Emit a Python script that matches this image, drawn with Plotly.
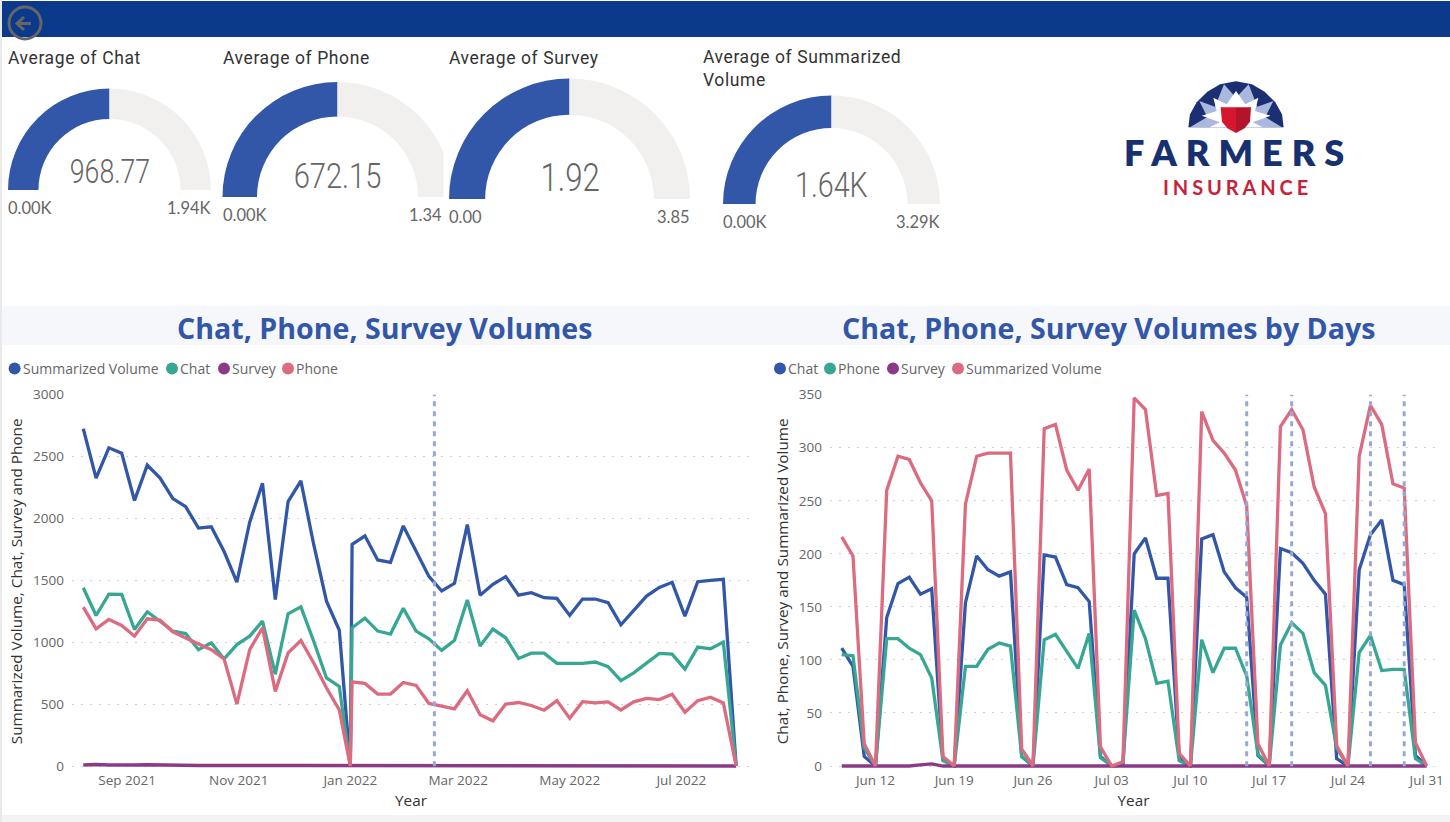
import plotly.graph_objects as go

W, H = 1450, 822

# ---------- data ----------
gauge_titles = ["Average of Chat", "Average of Phone", "Average of Survey", "Average of Summarized<br>Volume"]
gauge_values = [968.77, 672.15, 1.92, 1640]
gauge_maxima = [1937.54, 1344.30, 3.84, 3280]
gauge_value_labels = ["968.77", "672.15", "1.92", "1.64K"]
gauge_min_labels = ["0.00K", "0.00K", "0.00", "0.00K"]
gauge_max_labels = ["1.94K", "1.34", "3.85", "3.29K"]

year_dates = [
    "2021-08-08","2021-08-15","2021-08-22","2021-08-29","2021-09-05","2021-09-12","2021-09-19",
    "2021-09-26","2021-10-03","2021-10-10","2021-10-17","2021-10-24","2021-10-31","2021-11-07",
    "2021-11-14","2021-11-21","2021-11-28","2021-12-05","2021-12-12","2021-12-19","2021-12-26",
    "2022-01-01","2022-01-02","2022-01-09","2022-01-16","2022-01-23","2022-01-30","2022-02-06",
    "2022-02-13","2022-02-20","2022-02-27","2022-03-06","2022-03-13","2022-03-20","2022-03-27",
    "2022-04-03","2022-04-10","2022-04-17","2022-04-24","2022-05-01","2022-05-08","2022-05-15",
    "2022-05-22","2022-05-29","2022-06-05","2022-06-12","2022-06-19","2022-06-26","2022-07-03",
    "2022-07-10","2022-07-17","2022-07-24","2022-07-31",
]
year_summarized = [2725,2326,2571,2528,2145,2431,2326,2160,2095,1922,1933,1733,1485,1970,2285,1345,2137,2304,1790,1332,1097,
                   0,1790,1860,1665,1645,1940,1735,1532,1414,1476,1950,1379,1468,1530,1381,1400,1360,1354,1217,1349,1349,
                   1319,1141,1260,1373,1443,1484,1211,1489,1500,1508,0]
year_chat = [1440,1216,1389,1386,1103,1246,1170,1089,1070,940,995,865,981,1049,1170,743,1230,1286,1008,711,643,
             0,1117,1195,1090,1066,1274,1090,1028,934,1015,1341,969,1106,1036,869,912,912,829,829,829,840,
             802,689,753,831,910,904,783,961,947,1001,0]
year_survey = [8,12,8,6,8,10,7,5,4,4,4,5,4,5,7,5,4,4,4,3,3,
               0,3,3,3,3,4,5,4,3,3,3,3,3,4,5,4,3,3,4,3,2,
               2,2,2,3,3,2,2,2,2,2,0]
year_phone = [1284,1108,1184,1135,1049,1189,1178,1084,1035,989,940,865,500,940,1116,603,914,1014,832,630,454,
              0,680,667,581,581,675,651,505,484,462,608,414,365,500,513,489,451,528,385,520,510,
              518,453,518,547,537,580,434,528,556,510,0]
year_marker_dates = ["2022-02-16"]

day_dates = [
    "2022-06-09","2022-06-10","2022-06-11","2022-06-12","2022-06-13","2022-06-14","2022-06-15","2022-06-16",
    "2022-06-17","2022-06-18","2022-06-19","2022-06-20","2022-06-21","2022-06-22","2022-06-23","2022-06-24",
    "2022-06-25","2022-06-26","2022-06-27","2022-06-28","2022-06-29","2022-06-30","2022-07-01","2022-07-02",
    "2022-07-03","2022-07-04","2022-07-05","2022-07-06","2022-07-07","2022-07-08","2022-07-09","2022-07-10",
    "2022-07-11","2022-07-12","2022-07-13","2022-07-14","2022-07-15","2022-07-16","2022-07-17","2022-07-18",
    "2022-07-19","2022-07-20","2022-07-21","2022-07-22","2022-07-23","2022-07-24","2022-07-25","2022-07-26",
    "2022-07-27","2022-07-28","2022-07-29","2022-07-30","2022-07-31",
]
day_chat = [111,94,9,0,140,172,178,162,167,6,0,154,198,185,179,183,9,0,199,197,171,168,155,9,
            0,1,200,215,177,177,9,0,214,218,183,168,159,10,0,205,201,191,175,162,7,0,185,218,232,175,171,10,0]
day_phone = [105,104,17,0,120,120,111,105,83,5,0,94,94,110,116,113,9,0,119,124,108,92,125,8,
             0,3,147,120,78,80,5,0,119,88,111,111,85,11,0,114,135,125,88,76,17,0,107,123,90,91,91,7,0]
day_survey = [0,0,0,0,0,0,0,1,2,0,0,0,0,0,0,0,0,0,0,0,0,0,0,0,
              0,0,0,0,0,0,0,0,0,0,0,0,0,0,0,0,0,0,0,0,0,0,0,0,0,0,0,0,0]
day_summarized = [216,198,21,0,260,292,289,267,250,9,0,247,292,295,295,295,16,0,318,322,279,260,280,18,
                  0,4,347,336,255,257,12,0,334,307,295,279,245,21,0,320,336,317,263,238,19,0,292,340,322,266,262,22,0]
day_marker_dates = ["2022-07-15", "2022-07-19", "2022-07-26", "2022-07-29"]

left_series = ["Summarized Volume", "Chat", "Survey", "Phone"]
right_series = ["Chat", "Phone", "Survey", "Summarized Volume"]

BLUE, TEAL, PURPLE, PINK = "#3257A8", "#37A794", "#8B3A88", "#DC6B80"
GREY = "#F1F0EF"
TICK = "#666666"
UI = "Open Sans"
DIN = "Lato"


def px(x):
    return x / W


def py(y):
    return 1 - y / H


fig = go.Figure()
shapes = []
ann = []


def rect(x0, y0, x1, y1, color, layer="below"):
    shapes.append(dict(type="rect", xref="paper", yref="paper", x0=px(x0), x1=px(x1), y0=py(y0), y1=py(y1),
                       fillcolor=color, line_width=0, layer=layer))


def text(x, y, s, size, color, anchor="center", family=UI, weight=None):
    # annotations carry a 2px internal inset; compensate so x is the ink edge
    x = x - 2 if anchor == "left" else (x + 2 if anchor == "right" else x)
    ann.append(dict(xref="paper", yref="paper", x=px(x), y=py(y), text=s, showarrow=False, xanchor=anchor,
                    yanchor="middle", align="left", font=dict(size=size, color=color, family=family, weight=weight)))


# ---------- page furniture ----------
rect(0, 0, 2, 822, "#E9E9E9")
rect(2, 1, 1450, 37, "#0B3A8C")
rect(2, 306, 1450, 345, "#F6F7FB")
rect(2, 815, 1450, 822, "#F3F3F3")

# back button
shapes.append(dict(type="circle", xref="paper", yref="paper", x0=px(9), x1=px(41), y0=py(39), y1=py(7),
                   line=dict(color="#666666", width=3), fillcolor="rgba(0,0,0,0)"))
shapes.append(dict(type="path", xref="paper", yref="paper",
                   path=f"M {px(31)} {py(23.5)} L {px(17)} {py(23.5)} M {px(24)} {py(17)} L {px(17)} {py(23.5)} L {px(24)} {py(30)}",
                   line=dict(color="#666666", width=3)))


# ---------- logo ----------
def logo_pt(zx, zy):
    return px(1170 + zx / 3), py(75 + zy / 3)


def poly(points, color):
    d = []
    for i, (a, b) in enumerate(points):
        X, Y = logo_pt(a, b)
        d.append(("M" if i == 0 else "L") + f" {X} {Y}")
    shapes.append(dict(type="path", xref="paper", yref="paper", path=" ".join(d) + " Z", fillcolor=color, line_width=0))


poly([(55, 157), (60, 118), (80, 82), (112, 50), (150, 28), (198, 19), (246, 28), (284, 50), (316, 82), (336, 118), (341, 157)], "#1B2F72")
poly([(60, 157), (112, 126), (88, 78), (135, 95), (162, 28), (198, 68), (236, 28), (262, 95), (310, 78), (286, 126), (336, 157)], "#A9B8DC")
poly([(118, 157), (150, 142), (95, 122), (140, 108), (130, 68), (170, 88), (198, 48), (226, 88), (265, 68), (255, 108), (302, 122), (248, 142), (278, 157)], "#FFFFFF")
poly([(152, 97), (198, 97), (198, 174), (172, 160), (156, 140)], "#D7162F")
poly([(198, 97), (243, 97), (240, 140), (224, 160), (198, 174)], "#B3142C")
text(1124, 152, "FARMERS", 36, "#17306F", "left", DIN, 800)
text(1163, 187, "INSURANCE", 20, "#C6233B", "left", DIN, 700)

# ---------- gauges ----------
gauge_geom = [  # cx, baseline, radius
    (109.5, 190, 101.5), (337.5, 197, 115), (569.5, 199, 120.5), (831.5, 204, 108.5)]
gauge_title_xy = [(8, 58), (223, 58), (449, 58), (703, 69)]
gauge_min_x = [8, 223, 449, 723]
gauge_max_x = [211, 442, 690, 940]
gauge_tick_y = [208, 215, 217, 222]
gauge_val_y = [172, 176, 178, 185]
gauge_val_size = [32.5, 35.5, 38, 35]
for i, (v, m) in enumerate(zip(gauge_values, gauge_maxima)):
    cx, base, r = gauge_geom[i]
    fig.add_trace(go.Pie(values=[v, m - v, m], sort=False, direction="clockwise", rotation=270, hole=0.70,
                         marker=dict(colors=[BLUE, GREY, "rgba(0,0,0,0)"], line=dict(width=0)),
                         textinfo="none", hoverinfo="skip", showlegend=False,
                         domain=dict(x=[px(cx - r), px(cx + r)], y=[py(base + r), py(base - r)])))
    tx, ty = gauge_title_xy[i]
    text(tx, ty, gauge_titles[i], 17.5, "#333333", "left", "Roboto")
    text(cx, gauge_val_y[i], gauge_value_labels[i], gauge_val_size[i], "#666666", family="Roboto", weight=300)
    text(gauge_min_x[i], gauge_tick_y[i], gauge_min_labels[i], 16.5, TICK, "left", DIN)
    text(gauge_max_x[i], gauge_tick_y[i], gauge_max_labels[i], 16.5, TICK, "right", DIN)

# the Phone gauge visual is cropped at its right edge
rect(443.5, 75, 449, 198, "#FFFFFF", layer="above")


# ---------- line charts ----------
def line(x, y, name, color, xa, ya):
    fig.add_trace(go.Scatter(x=x, y=y, name=name, mode="lines", xaxis=xa, yaxis=ya, showlegend=False,
                             line=dict(color=color, width=3.3)))


left_map = {"Summarized Volume": (year_summarized, BLUE), "Chat": (year_chat, TEAL),
            "Survey": (year_survey, PURPLE), "Phone": (year_phone, PINK)}
for n in left_series:
    line(year_dates, left_map[n][0], n, left_map[n][1], "x", "y")
right_map = {"Chat": (day_chat, BLUE), "Phone": (day_phone, TEAL),
             "Survey": (day_survey, PURPLE), "Summarized Volume": (day_summarized, PINK)}
for n in right_series:
    line(day_dates, right_map[n][0], n, right_map[n][1], "x2", "y2")

for d in year_marker_dates:
    shapes.append(dict(type="line", xref="x", yref="y domain", x0=d, x1=d, y0=0.005, y1=1,
                       line=dict(color="#98A8D6", width=3, dash="5px,5px")))
for d in day_marker_dates:
    shapes.append(dict(type="line", xref="x2", yref="y2 domain", x0=d, x1=d, y0=0.005, y1=1,
                       line=dict(color="#98A8D6", width=3, dash="5px,5px")))

text(384.5, 327.5, "Chat, Phone, Survey Volumes", 28.6, BLUE, weight=700)
text(1109, 327.5, "Chat, Phone, Survey Volumes by Days", 28.6, BLUE, weight=700)

# custom round-dot legends
left_legend_x = [14.6, 172, 224, 288]
right_legend_x = [780, 830, 893, 958]
for names, xs, colmap in [(left_series, left_legend_x, left_map), (right_series, right_legend_x, right_map)]:
    for n, x in zip(names, xs):
        shapes.append(dict(type="circle", xref="paper", yref="paper", x0=px(x - 6), x1=px(x + 6),
                           y0=py(374.5), y1=py(362.5), fillcolor=colmap[n][1], line_width=0))
        text(x + 8.4, 368.5, n, 14, TICK, "left")

axis_font = dict(size=13.5, color=TICK, family=UI)
title_font = dict(size=15.3, color="#333333", family=UI)
common_x = dict(type="date", showgrid=False, zeroline=False, showline=False, ticks="", tickfont=axis_font,
                ticklabelstandoff=2, title=dict(text="Year", font=title_font, standoff=7), automargin=False)
common_y = dict(showline=False, zeroline=False, ticks="", tickfont=axis_font, showgrid=True, gridcolor="#CFCFCF",
                griddash="2px,7px", gridwidth=1, ticklabelstandoff=7, automargin=False)

fig.update_layout(
    width=W, height=H, margin=dict(l=0, r=0, t=0, b=0), paper_bgcolor="white", plot_bgcolor="white",
    showlegend=False, shapes=shapes, annotations=ann, font=dict(family=UI),
    xaxis=dict(domain=[px(72), px(750)], anchor="y", range=["2021-08-01 20:00", "2022-08-07 14:00"],
               tick0="2021-09-01", dtick="M2", tickformat="%b %Y", **common_x),
    yaxis=dict(domain=[py(768), py(394.7)], anchor="x", range=[-16.2, 3000], tick0=0, dtick=500,
               title=dict(text="Summarized Volume, Chat, Survey and Phone", font=title_font, standoff=6), **common_y),
    xaxis2=dict(domain=[px(830), px(1437)], anchor="y2", range=["2022-06-07 23:00", "2022-07-31 22:00"],
                tick0="2022-06-12", dtick=604800000, tickformat="%b %d", **common_x),
    yaxis2=dict(domain=[py(768), py(394.7)], anchor="x2", range=[-1.89, 350], tick0=0, dtick=50,
                title=dict(text="Chat, Phone, Survey and Summarized Volume", font=title_font, standoff=6), **common_y),
)

post = """
document.body.style.margin='0';document.documentElement.style.overflow='hidden';
var condensed=%s;
document.querySelectorAll('text').forEach(function(t){
 var c=t.textContent;
 if(c==='FARMERS'){t.style.letterSpacing='9px';}
 if(c==='INSURANCE'){t.style.letterSpacing='3.9px';}
 if(c.indexOf('Average of')===0){t.style.letterSpacing='0.6px';}
 if(condensed.indexOf(c)>=0){
  var L=t.getComputedTextLength(), k=0.82;
  t.setAttribute('textLength',L*k);t.setAttribute('lengthAdjust','spacingAndGlyphs');
  if(getComputedStyle(t).textAnchor==='start'){t.setAttribute('x',parseFloat(t.getAttribute('x')||0)+L*(1-k)/2);}
 }
});
""" % (str(gauge_value_labels))
fig.write_html("out.html", post_script=post, config={"displayModeBar": False})
